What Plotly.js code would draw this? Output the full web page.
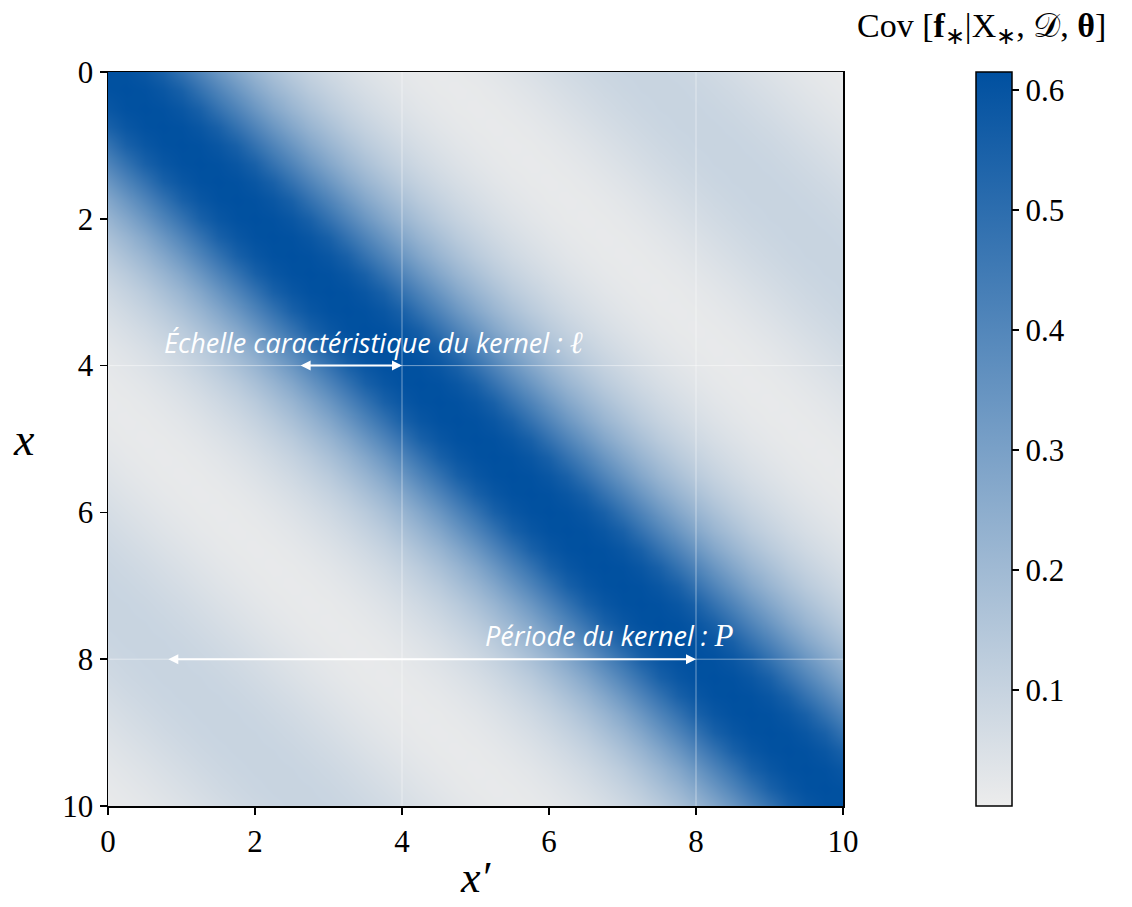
<!DOCTYPE html>
<html>
<head>
<meta charset="utf-8">
<script src="https://cdn.plot.ly/plotly-3.0.1.min.js"></script>
<style>html,body{margin:0;padding:0;background:#fff;}#plot{width:1132px;height:907px;}</style>
</head>
<body>
<div id="plot"></div>
<script>
// Grid of positions (both x and x') in data units
const gridPositions = [0,0.25,0.5,0.75,1,1.25,1.5,1.75,2,2.25,2.5,2.75,3,3.25,3.5,3.75,4,4.25,4.5,4.75,5,5.25,5.5,5.75,6,6.25,6.5,6.75,7,7.25,7.5,7.75,8,8.25,8.5,8.75,9,9.25,9.5,9.75,10];
const covByLag = [0.615,0.61,0.59,0.55,0.48,0.41,0.34,0.275,0.22,0.175,0.135,0.105,0.08,0.06,0.044,0.031,0.022,0.016,0.014,0.016,0.021,0.029,0.039,0.05,0.062,0.073,0.083,0.091,0.096,0.098,0.097,0.093,0.086,0.077,0.066,0.055,0.044,0.034,0.025,0.018,0.013];
const axisTicks = [0,2,4,6,8,10];
const cbTicks = [0.1,0.2,0.3,0.4,0.5,0.6];
const zMin = 0.0033, zMax = 0.615;

// Build the matrix by looking up the lag profile
const z = gridPositions.map((_, i) => gridPositions.map((_, j) => covByLag[Math.abs(i - j)]));

const serif = "Liberation Serif";
const sans = "Open Sans";
const sf = t => '<span style="font-family:Liberation Serif">' + t + '</span>';

const trace = {
  type: 'heatmap',
  x: gridPositions,
  y: gridPositions,
  z: z,
  zmin: zMin,
  zmax: zMax,
  zsmooth: 'best',
  colorscale: [[0, '#ececec'], [1, '#0050a0']],
  hoverinfo: 'skip',
  colorbar: {
    x: (976 - 108) / 735, xanchor: 'left', xpad: 0,
    y: 0.5, yanchor: 'middle', ypad: 0,
    len: 1, lenmode: 'fraction',
    thickness: 36, thicknessmode: 'pixels',
    outlinewidth: 1.5, outlinecolor: '#000',
    ticks: 'outside', ticklen: 7, tickwidth: 1.5, tickcolor: '#000',
    tickvals: cbTicks, ticktext: cbTicks.map(v => sf(v.toFixed(1))),
    tickfont: {family: serif, size: 31, color: '#000'}
  }
};

const white = '#ffffff';
const layout = {
  width: 1132, height: 907,
  margin: {l: 108, r: 289, t: 72, b: 101, pad: 0},
  paper_bgcolor: '#fff', plot_bgcolor: '#fff',
  font: {family: serif, color: '#000'},
  showlegend: false,
  xaxis: {
    range: [0, 10], tickvals: axisTicks, ticktext: axisTicks.map(v => sf(String(v))),
    ticks: 'outside', ticklen: 7, tickwidth: 1.5, tickcolor: '#000',
    showline: true, linecolor: '#000', linewidth: 1.5, mirror: true,
    showgrid: false, zeroline: false,
    tickfont: {family: serif, size: 31, color: '#000'}
  },
  yaxis: {
    range: [10, 0], tickvals: axisTicks, ticktext: axisTicks.map(v => sf(String(v))),
    ticks: 'outside', ticklen: 7, tickwidth: 1.5, tickcolor: '#000',
    showline: true, linecolor: '#000', linewidth: 1.5, mirror: true,
    showgrid: false, zeroline: false,
    tickfont: {family: serif, size: 31, color: '#000'}
  },
  shapes: [4, 8].map(v => ({type: 'line', xref: 'x', yref: 'paper', x0: v, x1: v, y0: 0, y1: 1, line: {color: 'rgba(255,255,255,0.45)', width: 1}}))
    .concat([4, 8].map(v => ({type: 'line', xref: 'paper', yref: 'y', x0: 0, x1: 1, y0: v, y1: v, line: {color: 'rgba(255,255,255,0.45)', width: 1}}))),
  annotations: [
    {xref: 'paper', yref: 'paper', x: 0.5, y: 0, yshift: -71, xanchor: 'center', yanchor: 'middle', showarrow: false,
     text: sf('<i>x′</i>'), font: {family: serif, size: 44, color: '#000'}},
    {xref: 'paper', yref: 'paper', x: 0, y: 0.5, xshift: -84, xanchor: 'center', yanchor: 'middle', showarrow: false,
     text: sf('<i>x</i>'), font: {family: serif, size: 46, color: '#000'}},
    {xref: 'paper', yref: 'paper', x: (982 - 108) / 735, y: 1, yshift: 44, xanchor: 'center', yanchor: 'middle', showarrow: false,
     text: sf('Cov [<b>f</b><sub>∗</sub>|X<sub>∗</sub>, 𝒟, <b>θ</b>]'), font: {family: serif, size: 34, color: '#000'}},
    {xref: 'x', yref: 'y', x: 0.74, y: 3.68, xanchor: 'left', yanchor: 'middle', showarrow: false,
     text: '<i>Échelle caractéristique du kernel : </i><span style="font-family:Liberation Serif;font-size:31px"><i>ℓ</i></span>', font: {family: sans, size: 27, color: white}},
    {xref: 'x', yref: 'y', x: 5.1, y: 7.68, xanchor: 'left', yanchor: 'middle', showarrow: false,
     text: '<i>Période du kernel : </i><span style="font-family:Liberation Serif;font-size:31px"><i>P</i></span>', font: {family: sans, size: 27, color: white}},
    {xref: 'x', yref: 'y', axref: 'x', ayref: 'y', x: 4.0, y: 4, ax: 2.6, ay: 4, text: '', showarrow: true,
     arrowside: 'end+start', arrowhead: 2, startarrowhead: 2, arrowsize: 1, startarrowsize: 1, arrowwidth: 2, arrowcolor: white, standoff: 0, startstandoff: 0},
    {xref: 'x', yref: 'y', axref: 'x', ayref: 'y', x: 8.0, y: 8, ax: 0.8, ay: 8, text: '', showarrow: true,
     arrowside: 'end+start', arrowhead: 2, startarrowhead: 2, arrowsize: 1, startarrowsize: 1, arrowwidth: 2, arrowcolor: white, standoff: 0, startstandoff: 0}
  ]
};

Plotly.newPlot('plot', [trace], layout, {staticPlot: true, displayModeBar: false});
</script>
</body>
</html>
